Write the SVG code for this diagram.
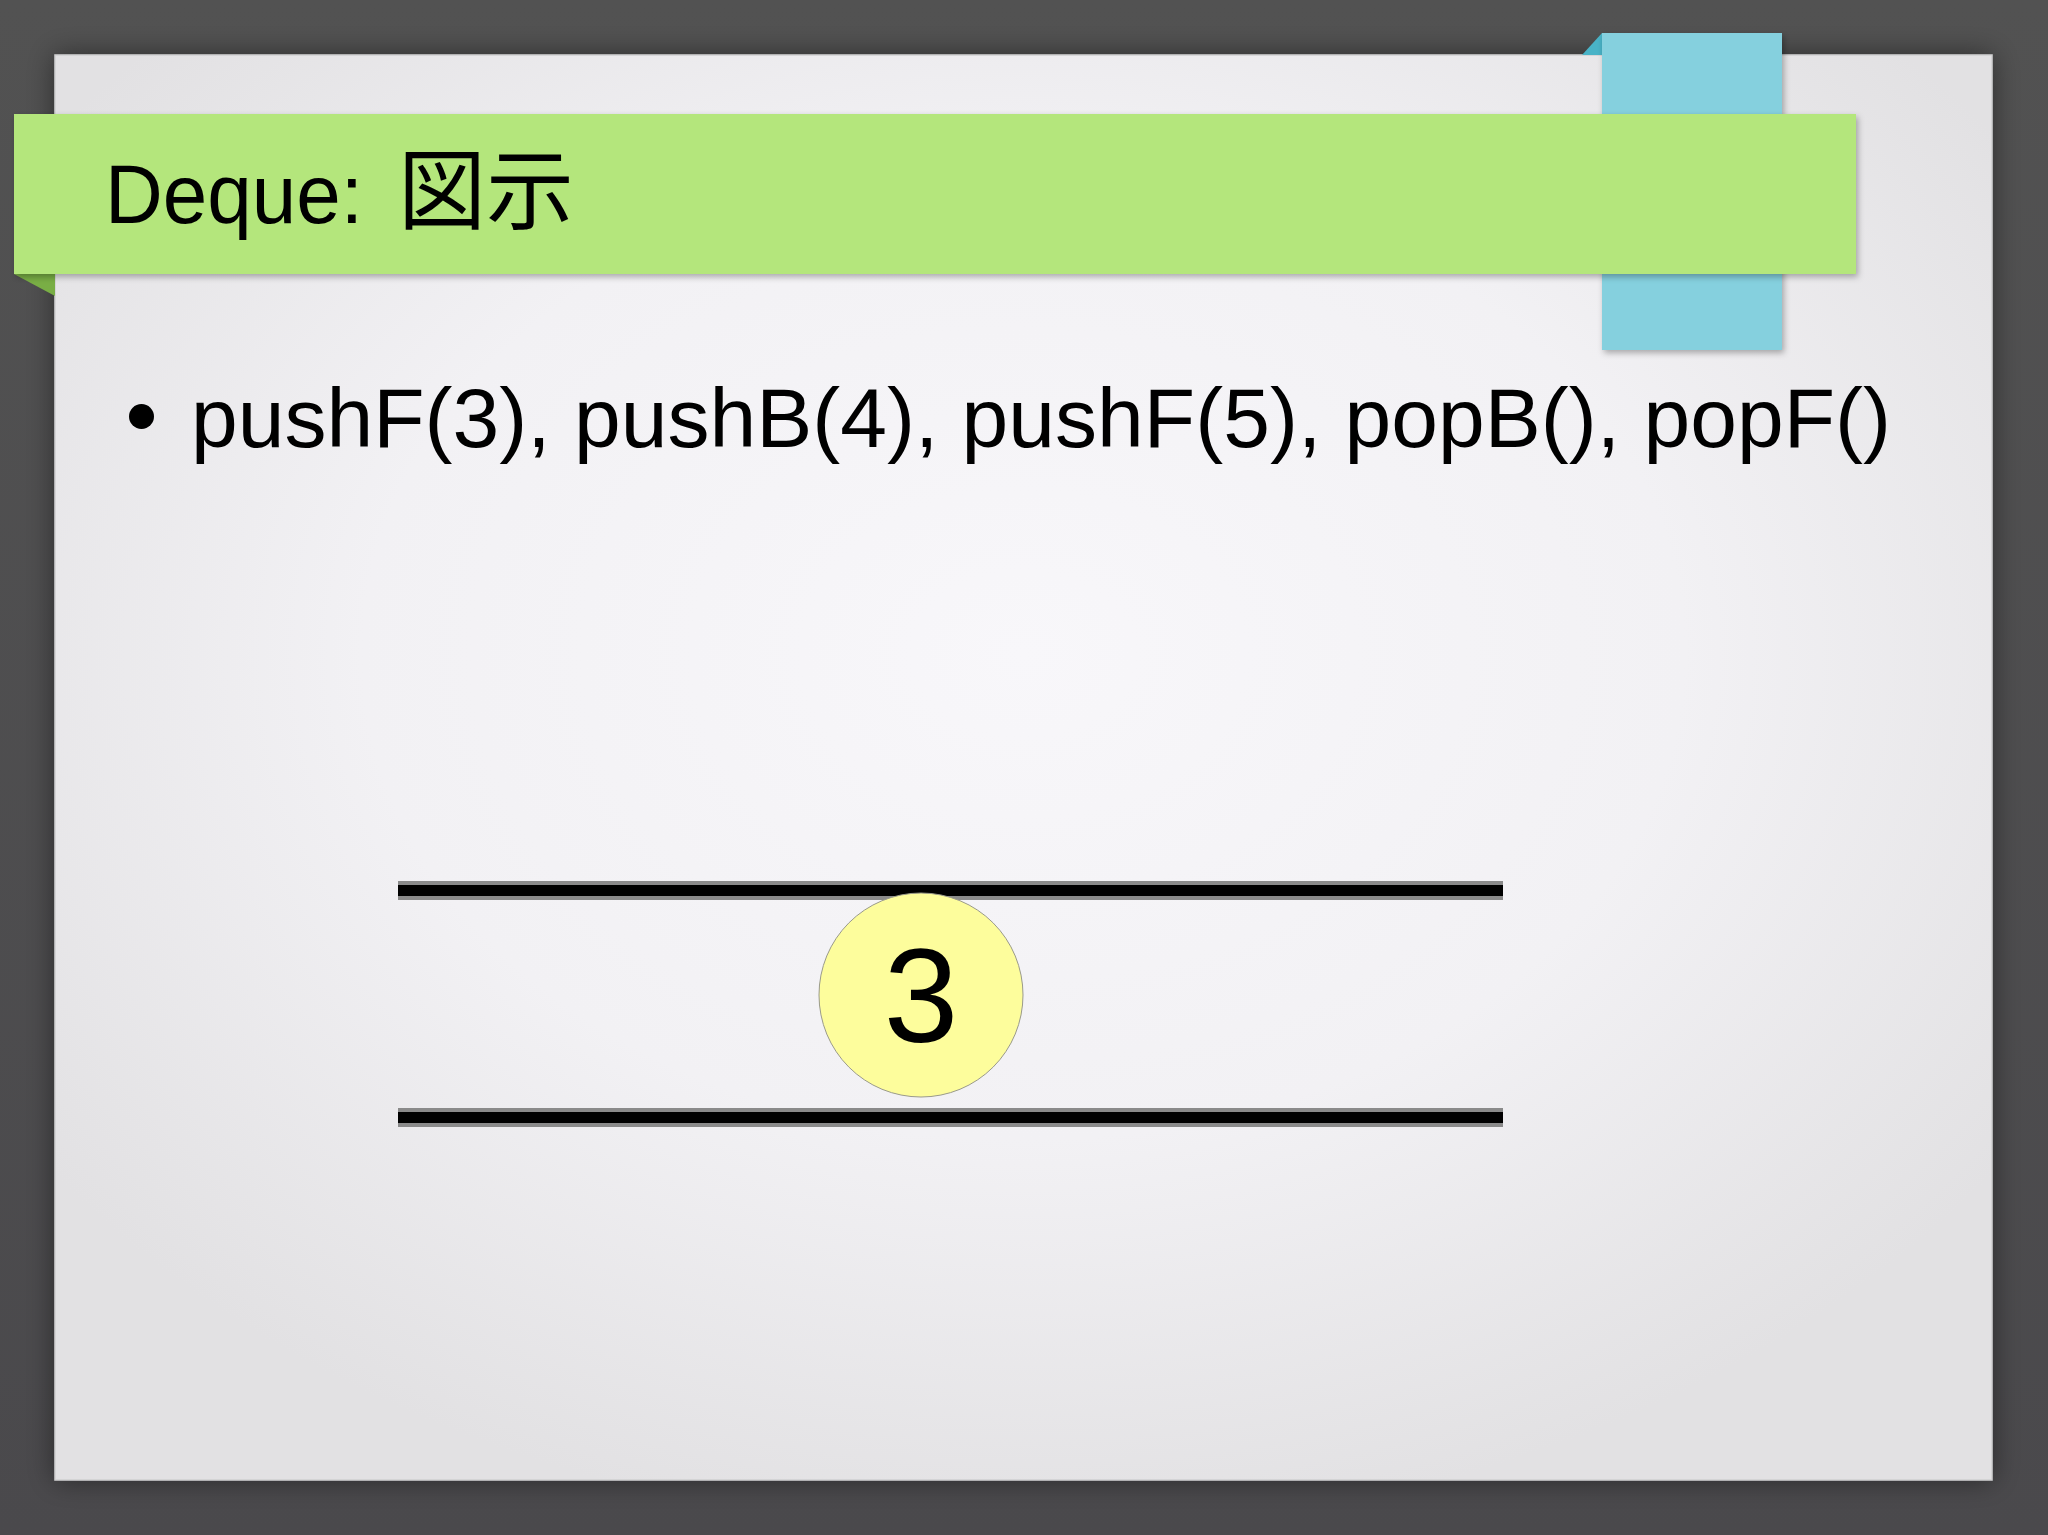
<svg xmlns="http://www.w3.org/2000/svg" width="2048" height="1535" viewBox="0 0 2048 1535">
  <defs>
    <linearGradient id="bgGrad" x1="0" y1="0" x2="0" y2="1">
      <stop offset="0" stop-color="#525252"/>
      <stop offset="1" stop-color="#4a494c"/>
    </linearGradient>
    <radialGradient id="slideGrad" cx="0.5" cy="0.42" r="0.62">
      <stop offset="0" stop-color="#f8f7fa"/>
      <stop offset="0.55" stop-color="#f2f1f4"/>
      <stop offset="1" stop-color="#e2e1e3"/>
    </radialGradient>
    <filter id="slideShadow" x="-5%" y="-5%" width="110%" height="110%">
      <feDropShadow dx="0" dy="0" stdDeviation="14" flood-color="#000" flood-opacity="0.45"/>
    </filter>
    <filter id="tabShadow" x="-5%" y="-10%" width="110%" height="125%">
      <feDropShadow dx="2" dy="3" stdDeviation="3" flood-color="#000" flood-opacity="0.3"/>
    </filter>
    <style>
      .ui { font-family: "Liberation Sans", Arial, "Noto Sans CJK JP", sans-serif; fill: #000; }
      .cjk { font-family: "Noto Sans CJK JP", "Noto Sans CJK SC", sans-serif; fill: #000; }
      .railOuter { fill: #8a8a8a; }
      .railInner { fill: #000; }
    </style>
  </defs>

  <rect x="0" y="0" width="2048" height="1535" fill="url(#bgGrad)"/>

  <g id="slide">
    <rect x="55" y="55" width="1937" height="1425" fill="url(#slideGrad)" stroke="#cfcfd1" stroke-width="1.5" filter="url(#slideShadow)"/>
  </g>

  <g id="blue-tab">
    <polygon points="1582,55 1602,33 1602,55" fill="#49b3c7"/>
    <rect x="1602" y="33" width="180" height="317" fill="#85d0de" filter="url(#tabShadow)"/>
  </g>

  <g id="title-banner">
    <polygon points="14,274 55,274 55,296" fill="#79ae45"/>
    <rect x="14" y="114" width="1842" height="160" fill="#b4e67c" filter="url(#tabShadow)"/>
    <text class="ui" x="105" y="223" font-size="84" textLength="258" lengthAdjust="spacingAndGlyphs">Deque:</text>
    <text class="cjk" x="398" y="222" font-size="88">図示</text>
  </g>

  <g id="bullet">
    <circle cx="141.5" cy="416.5" r="12.5" fill="#000"/>
    <text class="ui" x="191" y="447" font-size="84" textLength="1700" lengthAdjust="spacingAndGlyphs">pushF(3), pushB(4), pushF(5), popB(), popF()</text>
  </g>

  <g id="deque-top-rail">
    <rect class="railOuter" x="398" y="881" width="1105" height="19"/>
    <rect class="railInner" x="398" y="885" width="1105" height="11"/>
  </g>
  <g id="deque-bottom-rail">
    <rect class="railOuter" x="398" y="1108" width="1105" height="19"/>
    <rect class="railInner" x="398" y="1112" width="1105" height="11"/>
  </g>

  <g id="node-3">
    <circle cx="921" cy="995" r="102" fill="#fdfd9c" stroke="#9a9a8a" stroke-width="1"/>
    <text class="ui" x="921" y="1042" font-size="134" text-anchor="middle">3</text>
  </g>

  <g id="connectors"/>
</svg>
